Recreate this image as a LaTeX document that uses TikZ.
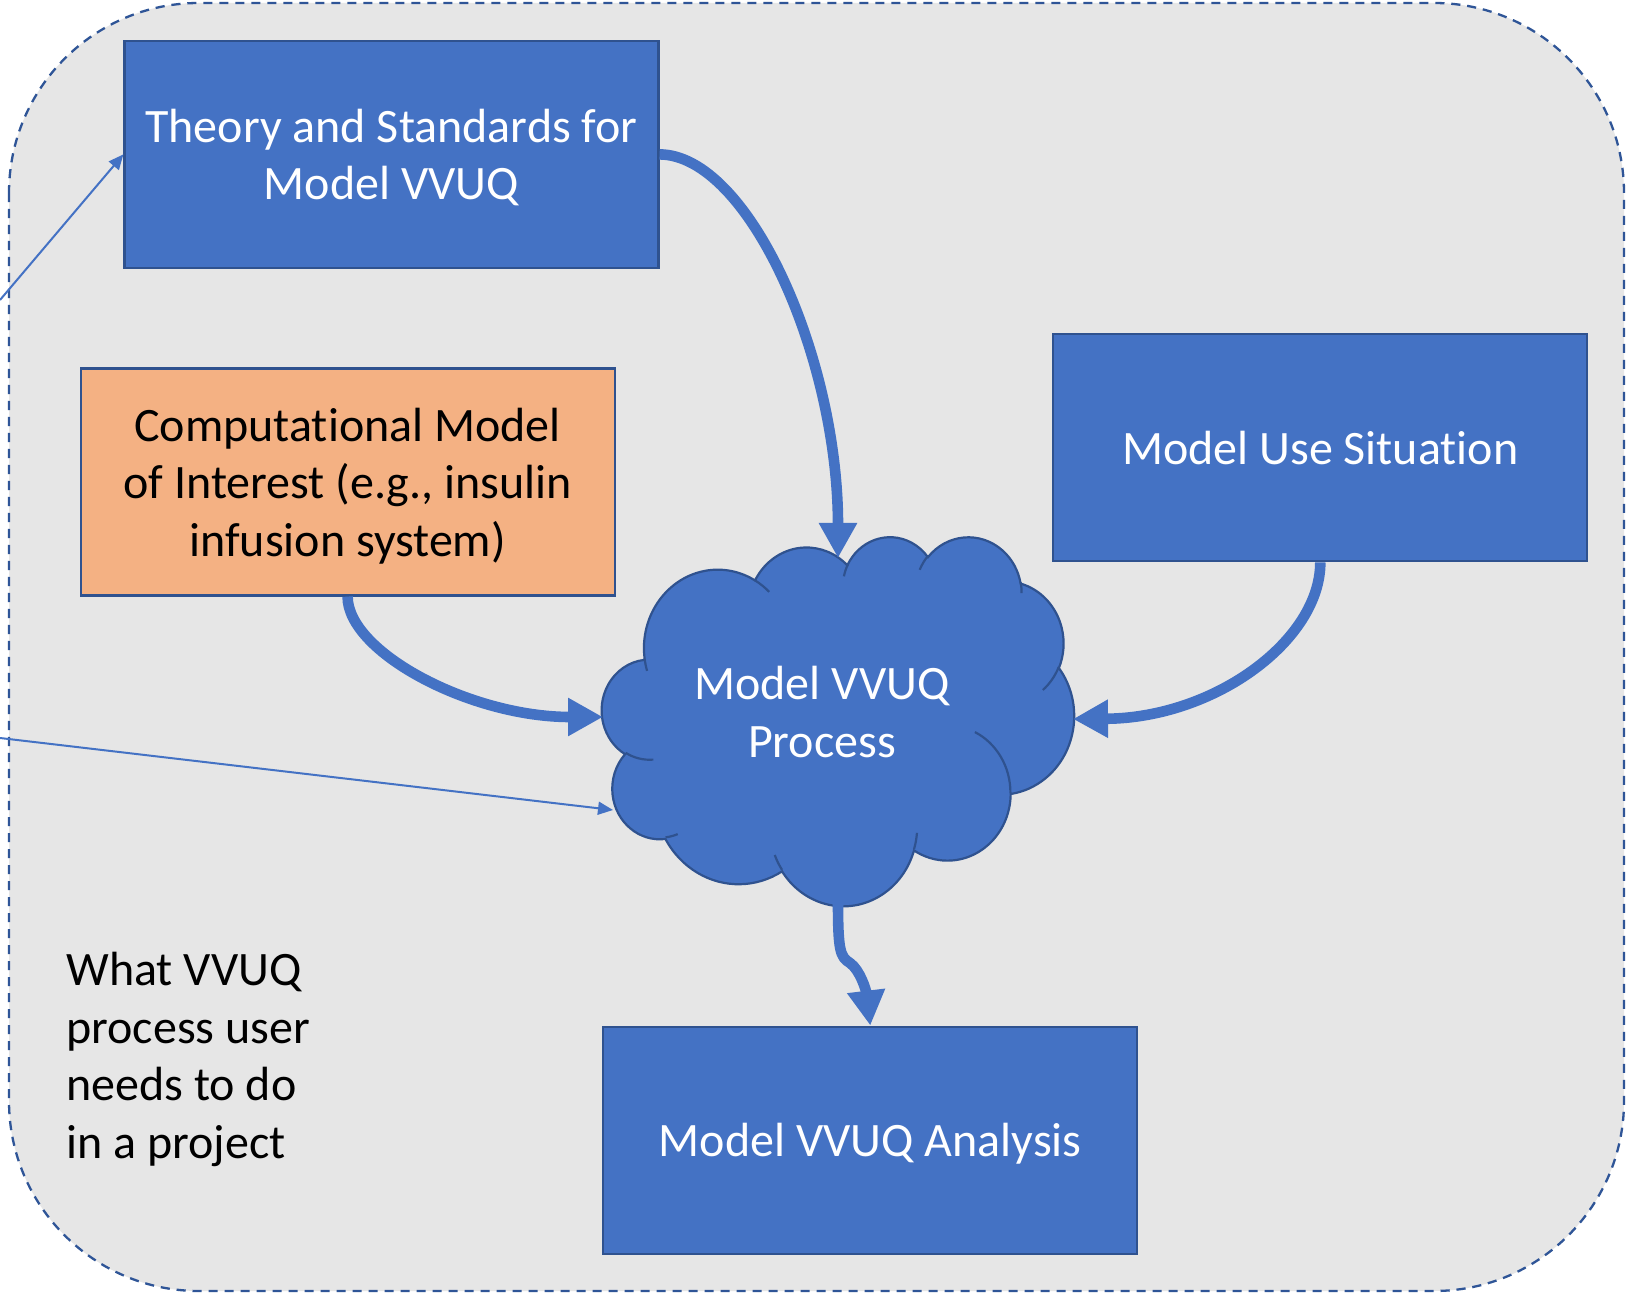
\documentclass[tikz,border=0pt]{standalone}
\usepackage{fontspec}
\setmainfont{Carlito}[Ligatures={NoCommon}]
\usetikzlibrary{arrows.meta}
\definecolor{boxblue}{HTML}{4472C4}
\definecolor{edgeblue}{HTML}{2F528F}
\definecolor{dashblue}{HTML}{2F5597}
\definecolor{orangefill}{HTML}{F4B183}
\definecolor{bggray}{HTML}{E6E6E6}

\newcommand\cloudcalc[5]{%
  \pgfmathsetmacro\cca{#4}%
  \pgfmathsetmacro\ccb{#4+(#5)}%
  \pgfmathsetmacro\cct{atan2((#2)*sin(\cca),(#3)*cos(\cca))}%
  \pgfmathsetmacro\ccu{atan2((#2)*sin(\ccb),(#3)*cos(\ccb))}%
  \pgfmathsetmacro\ccd{(\ccu)-(\cct)}%
  \pgfmathsetmacro\ccd{(\ccd)-360*round(((\ccd)-(#5))/360)}%
  \pgfmathsetmacro\ccs{-(\cct)}%
  \pgfmathsetmacro\cce{-(\ccd)}%
  \pgfmathsetmacro\ccx{(#2)*5.463}%
  \pgfmathsetmacro\ccy{(#3)*4.2708}%
  \expandafter\global\expandafter\let\csname cloudS#1\endcsname\ccs
  \expandafter\global\expandafter\let\csname cloudD#1\endcsname\cce
  \expandafter\global\expandafter\let\csname cloudX#1\endcsname\ccx
  \expandafter\global\expandafter\let\csname cloudY#1\endcsname\ccy
}
\cloudcalc{oa}{6.753}{9.190}{-190.48748}{123.78053}
\cloudcalc{ob}{5.333}{7.267}{-144.10238}{89.94523}
\cloudcalc{oc}{4.365}{5.945}{-145.80792}{99.72302}
\cloudcalc{od}{4.857}{6.595}{-130.98607}{117.24173}
\cloudcalc{oe}{5.333}{7.273}{-78.70888}{109.02692}
\cloudcalc{of}{6.775}{9.220}{-46.26725}{130.26900}
\cloudcalc{og}{5.785}{7.867}{0.62502}{114.03333}
\cloudcalc{oh}{6.752}{9.215}{22.45160}{115.17255}
\cloudcalc{oi}{7.720}{10.543}{66.24263}{75.71102}
\cloudcalc{oj}{4.360}{5.918}{-274.94208}{146.73557}
\cloudcalc{ok}{4.345}{5.945}{-246.82850}{152.51885}
\cloudcalc{ia}{4.345}{5.945}{86.74200}{26.42950}
\cloudcalc{ib}{4.360}{5.918}{73.61047}{11.44747}
\cloudcalc{ic}{6.752}{9.215}{137.62415}{14.08110}
\cloudcalc{id}{6.752}{9.215}{6.45327}{15.99835}
\cloudcalc{ie}{5.785}{7.867}{-70.29235}{70.91737}
\cloudcalc{if}{5.333}{7.273}{30.31803}{27.75150}
\cloudcalc{ig}{4.857}{6.595}{-13.74433}{14.85890}
\cloudcalc{ih}{4.857}{6.595}{-149.18145}{18.19537}
\cloudcalc{ii}{4.365}{5.945}{-163.49427}{17.68635}
\cloudcalc{ij}{6.753}{9.190}{-66.70695}{12.31935}
\cloudcalc{ik}{6.753}{9.190}{157.65435}{11.85817}

\begin{document}
\begin{tikzpicture}[x=0.5pt,y=-0.5pt,
  txt/.style={font=\fontsize{24}{28.75}\selectfont, inner sep=0pt},
  bluebox/.style={txt, draw=edgeblue, line width=1.1pt, fill=boxblue, text=white,
    minimum width=267pt, minimum height=113.5pt, align=center, text depth=0pt},
  orangebox/.style={bluebox, fill=orangefill, text=black},
  cloudtext/.style={txt, text=white, align=center},
  notetext/.style={txt, text=black, align=left},
  cloudshape/.style={fill=boxblue, draw=edgeblue, line width=1.1pt},
  cloudinner/.style={draw=edgeblue, line width=1.1pt},
  thickarrow/.style={draw=boxblue, line width=5.3pt, -{Triangle[length=17.5pt,width=18pt]}},
  thinarrow/.style={draw=boxblue, line width=1pt, -{Triangle[length=7.5pt,width=6.5pt]}},
  frame/.style={draw=dashblue, line width=1.15pt, dash pattern=on 4.6pt off 3.4pt,
    fill=bggray, rounded corners=95pt}]
\useasboundingbox (0,0) rectangle (1627,1293);
\fill[white] (0,0) rectangle (1627,1293);
\draw[frame] (9,3) rectangle (1624,1291);

% boxes
\node[bluebox] (theory) at (391.5,154.4) {Theory and Standards for\\Model VVUQ};
\node[orangebox] (comp) at (347.6,482) {Computational Model\\of Interest (e.g., insulin\\infusion system)};
\node[bluebox] (use) at (1320.3,447.8) {Model Use Situation};
\node[bluebox] (analysis) at (870.3,1140.2) {Model VVUQ Analysis};

% cloud
\begin{scope}[shift={(602,536)}, x=5.463pt, y=-4.2708pt]
\draw[cloudshape] (3.9,14.37)
  arc[start angle=\cloudSoa, delta angle=\cloudDoa, x radius=\cloudXoa pt, y radius=\cloudYoa pt]
  arc[start angle=\cloudSob, delta angle=\cloudDob, x radius=\cloudXob pt, y radius=\cloudYob pt]
  arc[start angle=\cloudSoc, delta angle=\cloudDoc, x radius=\cloudXoc pt, y radius=\cloudYoc pt]
  arc[start angle=\cloudSod, delta angle=\cloudDod, x radius=\cloudXod pt, y radius=\cloudYod pt]
  arc[start angle=\cloudSoe, delta angle=\cloudDoe, x radius=\cloudXoe pt, y radius=\cloudYoe pt]
  arc[start angle=\cloudSof, delta angle=\cloudDof, x radius=\cloudXof pt, y radius=\cloudYof pt]
  arc[start angle=\cloudSog, delta angle=\cloudDog, x radius=\cloudXog pt, y radius=\cloudYog pt]
  arc[start angle=\cloudSoh, delta angle=\cloudDoh, x radius=\cloudXoh pt, y radius=\cloudYoh pt]
  arc[start angle=\cloudSoi, delta angle=\cloudDoi, x radius=\cloudXoi pt, y radius=\cloudYoi pt]
  arc[start angle=\cloudSoj, delta angle=\cloudDoj, x radius=\cloudXoj pt, y radius=\cloudYoj pt]
  arc[start angle=\cloudSok, delta angle=\cloudDok, x radius=\cloudXok pt, y radius=\cloudYok pt]
  -- cycle;
\draw[cloudinner]
  (4.693,26.177) arc[start angle=\cloudSia, delta angle=\cloudDia, x radius=\cloudXia pt, y radius=\cloudYia pt]
  (6.928,34.899) arc[start angle=\cloudSib, delta angle=\cloudDib, x radius=\cloudXib pt, y radius=\cloudYib pt]
  (16.478,39.090) arc[start angle=\cloudSic, delta angle=\cloudDic, x radius=\cloudXic pt, y radius=\cloudYic pt]
  (28.827,34.751) arc[start angle=\cloudSid, delta angle=\cloudDid, x radius=\cloudXid pt, y radius=\cloudYid pt]
  (34.129,22.954) arc[start angle=\cloudSie, delta angle=\cloudDie, x radius=\cloudXie pt, y radius=\cloudYie pt]
  (41.798,15.354) arc[start angle=\cloudSif, delta angle=\cloudDif, x radius=\cloudXif pt, y radius=\cloudYif pt]
  (38.324,5.426) arc[start angle=\cloudSig, delta angle=\cloudDig, x radius=\cloudXig pt, y radius=\cloudYig pt]
  (29.078,3.952) arc[start angle=\cloudSih, delta angle=\cloudDih, x radius=\cloudXih pt, y radius=\cloudYih pt]
  (22.141,4.720) arc[start angle=\cloudSii, delta angle=\cloudDii, x radius=\cloudXii pt, y radius=\cloudYii pt]
  (14.000,5.192) arc[start angle=\cloudSij, delta angle=\cloudDij, x radius=\cloudXij pt, y radius=\cloudYij pt]
  (4.127,15.789) arc[start angle=\cloudSik, delta angle=\cloudDik, x radius=\cloudXik pt, y radius=\cloudYik pt];
\end{scope}
\node[cloudtext] (cloud) at (822,712) {Model VVUQ\\Process};

% touch points on the cloud and free ends
\coordinate (cloudN) at (838,558);
\coordinate (cloudW) at (603,717);
\coordinate (cloudE) at (1073,719);
\coordinate (cloudS) at (838,902);
\coordinate (cloudSW) at (613,810);
\coordinate (srcA) at (0,300);
\coordinate (srcB) at (0,738);

% note
\node[notetext, anchor=north west] (note) at (66,952) {What VVUQ\\process user\\needs to do\\in a project};

% connectors
\draw[thickarrow] (theory.east) .. controls (748,155) and (838,356) .. (cloudN);
\draw[thickarrow] (comp.south) .. controls (347.6,652) and (470,717) .. (cloudW);
\draw[thickarrow] (use.south) .. controls (1320.3,640) and (1215,718) .. (cloudE);
\draw[thickarrow] (cloudS) .. controls (838,950) and (840,957) .. (850,963)
  .. controls (860,970) and (866,990) .. (analysis.north);
\draw[thinarrow] (srcA) -- (theory.west);
\draw[thinarrow] (srcB) -- (cloudSW);
\end{tikzpicture}
\end{document}
